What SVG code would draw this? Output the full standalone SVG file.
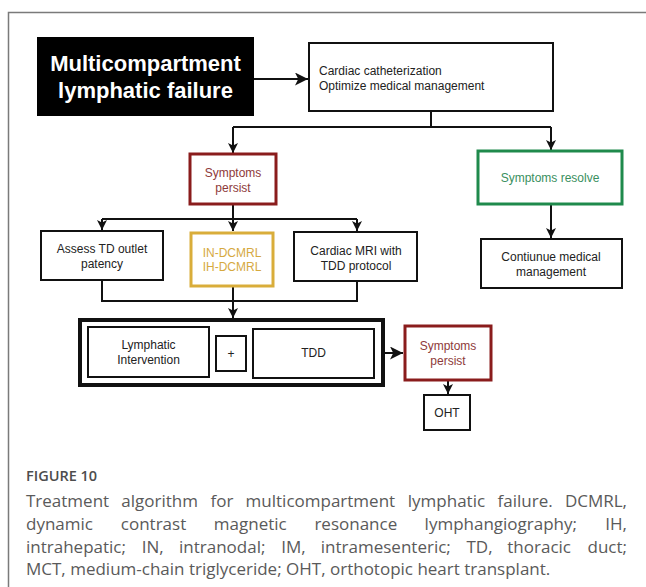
<svg xmlns="http://www.w3.org/2000/svg" width="646" height="587" viewBox="0 0 646 587">
<style>
.bx{fill:#fff;stroke:#111;stroke-width:2}
.t{font-family:"Liberation Sans",Arial,sans-serif;font-size:12px;fill:#222;text-anchor:middle}
.tl{text-anchor:start}
.red{fill:#fff;stroke:#8a1c1c;stroke-width:3}
.rt{fill:#8e3a3a}
.grn{fill:#fff;stroke:#1f8a4c;stroke-width:3}
.gt{fill:#3a8f60}
.yel{fill:#fff;stroke:#d9ad3a;stroke-width:3}
.yt{fill:#d6a93f}
.c{fill:none;stroke:#111;stroke-width:2}
.cap{font-family:"Open Sans","Noto Sans",sans-serif;font-size:17px;fill:#5a5a5a}
</style>
<defs>
<marker id="ah" viewBox="0 0 10 10" refX="10" refY="5" markerWidth="10" markerHeight="10" markerUnits="userSpaceOnUse" orient="auto">
<path d="M0,0 L10,5 L0,10 L2.5,5 z" fill="#111"/>
</marker>
<marker id="ahb" viewBox="0 0 10 10" refX="10" refY="5" markerWidth="13" markerHeight="13" markerUnits="userSpaceOnUse" orient="auto">
<path d="M0,0 L10,5 L0,10 L2.5,5 z" fill="#111"/>
</marker>
</defs>
<g id="frame" fill="none" stroke="#7a7a7a" stroke-width="1.5">
<path d="M8.5,587 V12.5 H646"/>
</g>
<g id="connectors">
<path class="c" d="M254,79 H308" marker-end="url(#ahb)"/>
<path class="c" d="M431,111 V127 M233,127 H551"/>
<path class="c" d="M233,127 V153" marker-end="url(#ah)"/>
<path class="c" d="M551,127 V150" marker-end="url(#ah)"/>
<path class="c" d="M551,205 V238" marker-end="url(#ah)"/>
<path class="c" d="M233,205 V219 M102,219 H357"/>
<path class="c" d="M102,219 V230" marker-end="url(#ah)"/>
<path class="c" d="M233,219 V231" marker-end="url(#ah)"/>
<path class="c" d="M357,219 V231" marker-end="url(#ah)"/>
<path class="c" d="M102,280 V301 H357 V281"/>
<path class="c" d="M233,287 V318" marker-end="url(#ah)"/>
<path class="c" d="M385,353 H403" marker-end="url(#ahb)"/>
<path class="c" d="M448,381 V394" marker-end="url(#ah)"/>
</g>
<g id="start">
<rect x="37" y="37" width="217" height="79" fill="#000"/>
<text x="145.5" y="71" text-anchor="middle" font-family="'Liberation Sans',Arial,sans-serif" font-weight="bold" font-size="22" fill="#fff">Multicompartment</text>
<text x="145.5" y="98" text-anchor="middle" font-family="'Liberation Sans',Arial,sans-serif" font-weight="bold" font-size="22" fill="#fff">lymphatic failure</text>
</g>
<g id="cath">
<rect class="bx" x="309" y="43" width="244" height="68"/>
<text class="t tl" x="319" y="75">Cardiac catheterization</text>
<text class="t tl" x="319" y="90">Optimize medical management</text>
</g>
<g id="persist1">
<rect class="red" x="190" y="154" width="86" height="50"/>
<text class="t rt" x="233" y="177">Symptoms</text>
<text class="t rt" x="233" y="192">persist</text>
</g>
<g id="resolve">
<rect class="grn" x="478" y="151" width="144" height="53"/>
<text class="t gt" x="550" y="182">Symptoms resolve</text>
</g>
<g id="continue">
<rect class="bx" x="481" y="239" width="141" height="49"/>
<text class="t" x="551" y="261">Contiunue medical</text>
<text class="t" x="551" y="276">management</text>
</g>
<g id="assess">
<rect class="bx" x="41" y="231" width="122" height="49"/>
<text class="t" x="102" y="253">Assess TD outlet</text>
<text class="t" x="102" y="268">patency</text>
</g>
<g id="dcmrl">
<rect class="yel" x="191" y="233" width="82" height="53"/>
<text class="t yt" x="232" y="257">IN-DCMRL</text>
<text class="t yt" x="232" y="271">IH-DCMRL</text>
</g>
<g id="mri">
<rect class="bx" x="294" y="232" width="123" height="49"/>
<text class="t" x="356" y="255">Cardiac MRI with</text>
<text class="t" x="356" y="270">TDD protocol</text>
</g>
<g id="combo">
<rect x="80" y="320" width="303" height="65" fill="#fff" stroke="#111" stroke-width="4"/>
</g>
<g id="lymph">
<rect class="bx" x="88" y="327" width="121" height="50"/>
<text class="t" x="148.5" y="349">Lymphatic</text>
<text class="t" x="148.5" y="364">Intervention</text>
</g>
<g id="plus">
<rect class="bx" x="216" y="336" width="30" height="35"/>
<text class="t" x="231" y="358">+</text>
</g>
<g id="tdd">
<rect class="bx" x="253" y="329" width="121" height="49"/>
<text class="t" x="313.5" y="357">TDD</text>
</g>
<g id="persist2">
<rect class="red" x="405" y="326" width="86" height="54"/>
<text class="t rt" x="448" y="350">Symptoms</text>
<text class="t rt" x="448" y="365">persist</text>
</g>
<g id="oht">
<rect class="bx" x="424" y="395" width="46" height="35"/>
<text class="t" x="447" y="417">OHT</text>
</g>
<g id="caption">
<text x="26" y="481" font-family="'Open Sans','Noto Sans',sans-serif" font-size="14.5" font-weight="600" fill="#4d4d4d">FIGURE 10</text>
<text class="cap" y="507"><tspan x="26">Treatment</tspan><tspan x="121.3">algorithm</tspan><tspan x="210.5">for</tspan><tspan x="245.6">multicompartment</tspan><tspan x="407.8">lymphatic</tspan><tspan x="497.6">failure.</tspan></text>
<text class="cap" y="507" x="627" text-anchor="end">DCMRL,</text>
<text class="cap" y="530"><tspan x="26">dynamic</tspan><tspan x="120.8">contrast</tspan><tspan x="213.8">magnetic</tspan><tspan x="314.4">resonance</tspan><tspan x="424.6">lymphangiography;</tspan></text>
<text class="cap" y="530" x="627" text-anchor="end">IH,</text>
<text class="cap" y="552.5"><tspan x="26">intrahepatic;</tspan><tspan x="141.8">IN,</tspan><tspan x="179">intranodal;</tspan><tspan x="281.2">IM,</tspan><tspan x="320.8">intramesenteric;</tspan><tspan x="466.5">TD,</tspan><tspan x="507.3">thoracic</tspan></text>
<text class="cap" y="552.5" x="627" text-anchor="end">duct;</text>
<text class="cap" x="26" y="575">MCT, medium-chain triglyceride; OHT, orthotopic heart transplant.</text>
</g>
</svg>
